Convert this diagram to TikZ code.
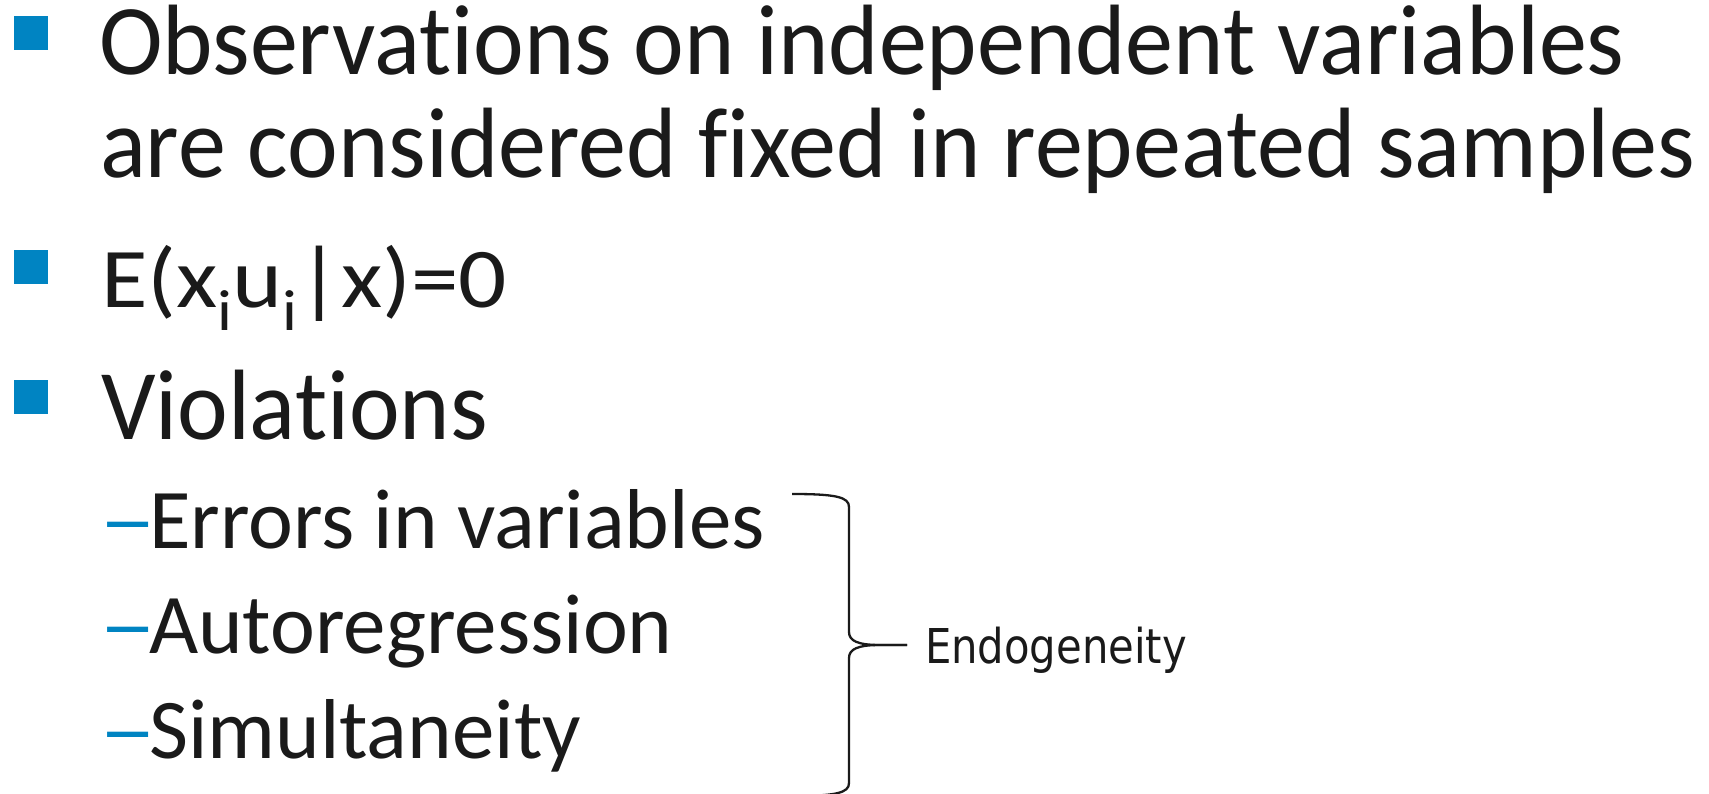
\documentclass[tikz,border=0pt]{standalone}
\usepackage{fontspec}
\newfontfamily\calmain[FakeStretch=0.96,Ligatures=CommonOff]{Carlito}
\newfontfamily\calfont[Ligatures=CommonOff]{Carlito}
\newfontfamily\calform[FakeStretch=1.12,Ligatures=CommonOff]{Carlito}
\newfontfamily\tahfont[FakeStretch=0.87]{DejaVu Sans}
\definecolor{bul}{HTML}{0084C2}
\definecolor{ink}{HTML}{1A1A1A}
\newcommand\mysubi{\raisebox{-23pt}{\fontsize{58}{58}\selectfont i}}
\begin{document}
\begin{tikzpicture}[x=1pt,y=-1pt,
  txt/.style={anchor=base west, inner sep=0pt, outer sep=0pt, text=ink},
  main/.style={txt, font=\calmain\fontsize{100}{100}\selectfont},
  formula/.style={txt, font=\calform\fontsize{85}{85}\selectfont},
  sub/.style={txt, font=\calfont\fontsize{85}{85}\selectfont},
  dashmark/.style={sub, text=bul},
  bsq/.style={fill=bul, draw=none, minimum size=34pt, inner sep=0pt, outer sep=0pt},
  bracepath/.style={draw=ink, line width=2.3pt, line join=round},
  tag/.style={anchor=base west, inner sep=0pt, outer sep=0pt, text=ink, font=\tahfont\fontsize{48}{48}\selectfont}]
\useasboundingbox (0,0) rectangle (1709,794);
% bullets
\node[bsq] (b1) at (31,33) {};
\node[bsq] (b2) at (31,267) {};
\node[bsq] (b3) at (31,397) {};
% main items
\node[main] (l1) at (99,75) {Observations on independent variables};
\node[main] (l2) at (100,178) {are considered fixed in repeated samples};
\node[formula] (l3) at (101,308) {E(x\mysubi u\mysubi|x)=0};
\node[main] (l4) at (101,439) {Violations};
% sub items
\node[dashmark] (d1) at (99,548) {\scalebox{1.35}[1]{–}};
\node[sub] (s1) at (149,548) {Errors in variables};
\node[dashmark] (d2) at (99,653) {\scalebox{1.35}[1]{–}};
\node[sub] (s2) at (149,653) {Autoregression};
\node[dashmark] (d3) at (99,758) {\scalebox{1.35}[1]{–}};
\node[sub] (s3) at (149,758) {Simultaneity};
% brace
\coordinate (tip) at (907,645);
\draw[bracepath] (792,494) .. controls (836,494) and (849,497) .. (849,507)
  -- (849,632) .. controls (849,641) and (858,645) .. (880,645) -- (tip);
\draw[bracepath] (tip) -- (880,645) .. controls (858,645) and (849,649) .. (849,658)
  -- (849,783) .. controls (849,793) and (836,796) .. (792,796);
\node[tag] (endo) at (925,663) {Endogeneity};
\end{tikzpicture}
\end{document}
